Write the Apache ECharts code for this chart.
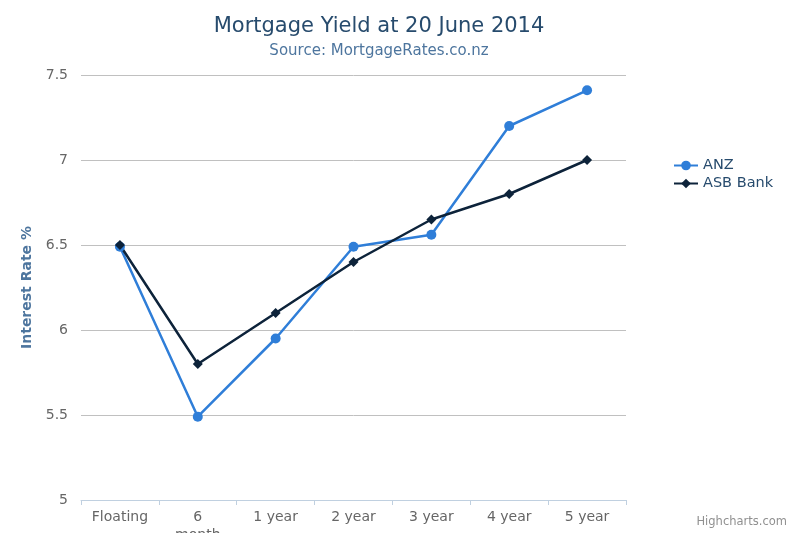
<!DOCTYPE html>
<html>
<head>
<meta charset="utf-8">
<script src="https://cdn.jsdelivr.net/npm/echarts@6/dist/echarts.min.js"></script>
<style>
  html, body { margin: 0; padding: 0; background: #fff; }
  #chart { width: 800px; height: 533px; }
</style>
</head>
<body>
<div id="chart"></div>
<script>
const categories = ["Floating", "6\nmonth", "1 year", "2 year", "3 year", "4 year", "5 year"];
const anz = [6.49, 5.49, 5.95, 6.49, 6.56, 7.2, 7.41];
const asb = [6.5, 5.8, 6.1, 6.4, 6.65, 6.8, 7.0];
const yTicks = { min: 5, max: 7.5, interval: 0.5 };

const font = "DejaVu Sans";
const chart = echarts.init(document.getElementById("chart"));

chart.setOption({
  animation: false,
  title: [
    {
      text: "Mortgage Yield at 20 June 2014",
      left: 374,
      top: 11,
      textAlign: "center",
      textStyle: { fontFamily: font, fontSize: 21, fontWeight: "normal", color: "#274b6d" },
    },
    {
      text: "Source: MortgageRates.co.nz",
      left: 374,
      top: 39,
      textAlign: "center",
      textStyle: { fontFamily: font, fontSize: 15, fontWeight: "normal", color: "#4d759e" },
    },
    {
      text: "Highcharts.com",
      right: 8,
      bottom: 0,
      textStyle: { fontFamily: font, fontSize: 11.5, fontWeight: "normal", color: "#909090" },
    },
  ],
  legend: {
    orient: "vertical",
    left: 668,
    top: 153,
    itemGap: 3,
    itemWidth: 24,
    itemHeight: 12,
    textStyle: { fontFamily: font, fontSize: 14.5, color: "#274b6d" },
    data: ["ANZ", "ASB Bank"],
  },
  grid: {
    left: 81,
    right: 174,
    top: 75,
    bottom: 33,
    outerBoundsMode: "none",
  },
  xAxis: {
    type: "category",
    data: categories,
    boundaryGap: true,
    axisLine: { lineStyle: { color: "#C0D0E0" } },
    axisTick: { show: true, length: 5, lineStyle: { color: "#C0D0E0" } },
    axisLabel: { fontFamily: font, fontSize: 14, color: "#666666", margin: 8, lineHeight: 18 },
  },
  yAxis: {
    type: "value",
    min: yTicks.min,
    max: yTicks.max,
    interval: yTicks.interval,
    name: "Interest Rate %",
    nameLocation: "middle",
    nameGap: 46,
    nameTextStyle: { fontFamily: font, fontSize: 14, fontWeight: "bold", color: "#4d759e" },
    axisLine: { show: false },
    axisTick: { show: false },
    axisLabel: { fontFamily: font, fontSize: 14, color: "#666666", margin: 13 },
    splitLine: { lineStyle: { color: "#C0C0C0" } },
  },
  series: [
    {
      name: "ANZ",
      type: "line",
      data: anz,
      symbol: "circle",
      symbolSize: 10,
      color: "#2f7ed8",
      lineStyle: { width: 2.5 },
    },
    {
      name: "ASB Bank",
      type: "line",
      data: asb,
      symbol: "diamond",
      symbolSize: 10,
      color: "#0d233a",
      lineStyle: { width: 2.5 },
    },
  ],
});
</script>
</body>
</html>
